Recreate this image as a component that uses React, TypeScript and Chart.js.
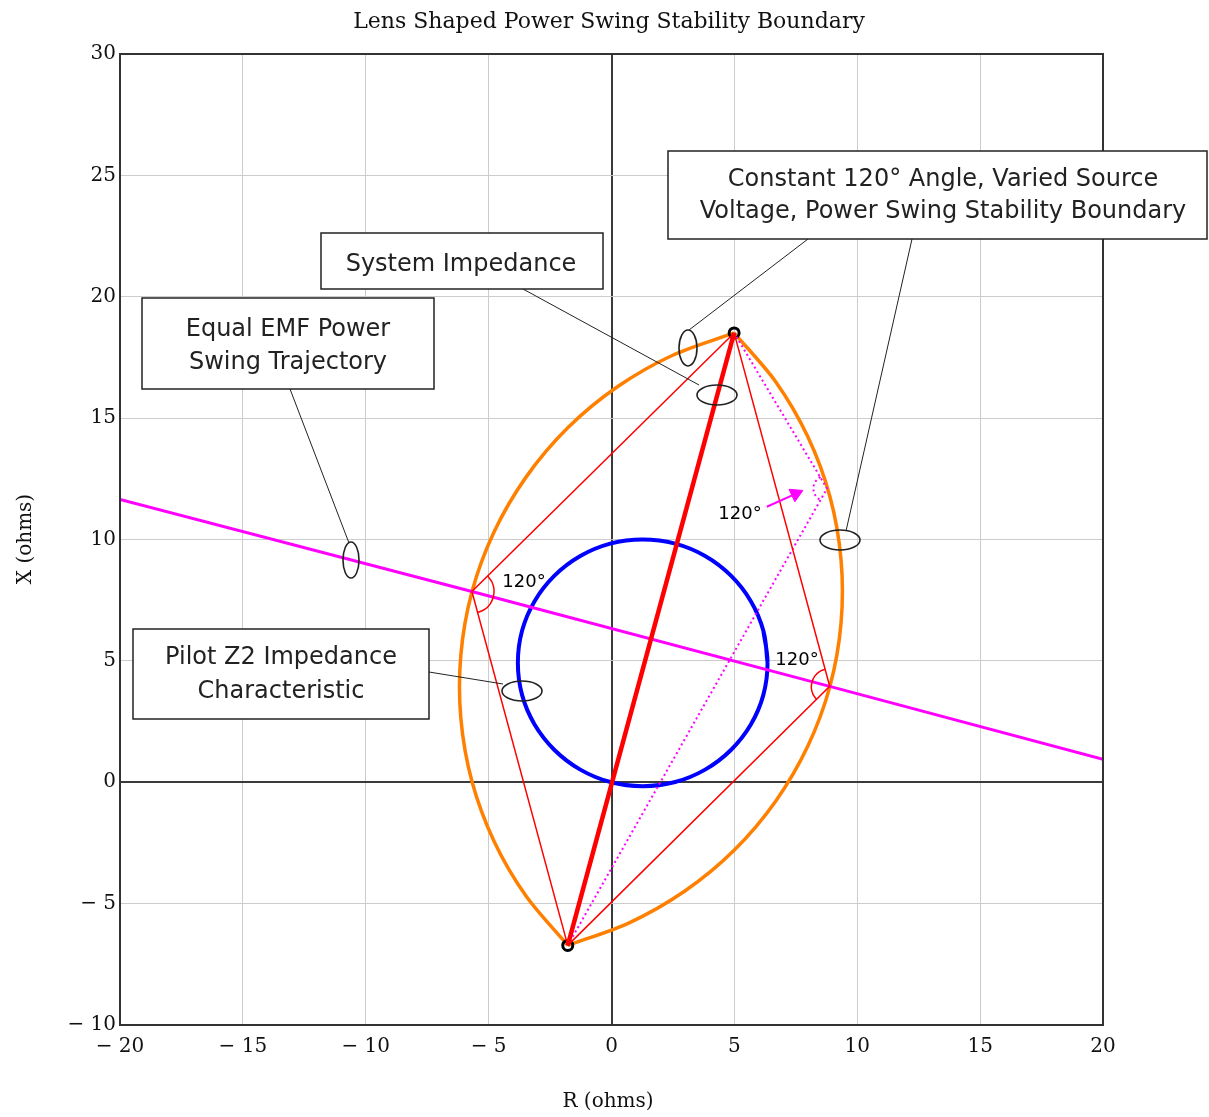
import React, { useEffect, useRef } from 'react';
import { Chart, registerables } from 'chart.js';

Chart.register(...registerables);

// ---- axis ticks ----
const xTickValues = [-20, -15, -10, -5, 0, 5, 10, 15, 20];
const yTickValues = [-10, -5, 0, 5, 10, 15, 20, 25, 30];

// ---- key points (R, X in ohms) ----
const endPointsR = [4.99, -1.78];
const endPointsX = [18.51, -6.72];

// System impedance (thick red)
const systemImpR = [-1.78, 4.99];
const systemImpX = [-6.72, 18.51];

// 120° triangles at the lens apexes (thin red)
const leftApexPathR = [-1.78, -5.68, 4.99];
const leftApexPathX = [-6.72, 7.86, 18.51];
const rightApexPathR = [-1.78, 8.88, 4.99];
const rightApexPathX = [-6.72, 3.95, 18.51];

// Varied source voltage point (magenta dotted)
const variedPathR = [-1.78, 8.77, 4.99];
const variedPathX = [-6.72, 12.1, 18.51];

// Equal EMF power swing trajectory (magenta)
const trajR = [-20, -5.68, 8.88, 20];
const trajX = [11.65, 7.86, 3.95, 0.95];

// Pilot Z2 mho circle (blue)
const mhoR = [6.35, 6.18, 5.67, 4.86, 3.81, 2.59, 1.27, -0.05, -1.27, -2.32, -3.13, -3.64, -3.81, -3.64, -3.13, -2.32, -1.27, -0.05, 1.27, 2.59, 3.81, 4.86, 5.67, 6.18, 6.35, 6.18];
const mhoX = [4.92, 6.24, 7.46, 8.51, 9.32, 9.83, 10.0, 9.83, 9.32, 8.51, 7.46, 6.24, 4.92, 3.6, 2.38, 1.33, 0.52, 0.01, -0.16, 0.01, 0.52, 1.33, 2.38, 3.6, 4.92, 6.24];

// Lens boundary (orange) - right arc T->B and left arc B->T
const lensRightR = [4.99, 6.68, 7.99, 8.89, 9.34, 9.34, 8.89, 7.99, 6.68, 4.99, 2.97, 0.7, -1.78];
const lensRightX = [18.51, 16.5, 14.23, 11.76, 9.17, 6.55, 3.96, 1.49, -0.78, -2.8, -4.49, -5.8, -6.72];
const lensLeftR = [-1.78, -3.47, -4.78, -5.68, -6.13, -6.13, -5.68, -4.78, -3.47, -1.78, 0.24, 2.51, 4.99];
const lensLeftX = [-6.72, -4.7, -2.43, 0.04, 2.63, 5.25, 7.84, 10.31, 12.58, 14.6, 16.29, 17.6, 18.51];

// Angle markers
const leftAngleR = [-5.04, -4.86, -4.78, -4.81, -4.94, -5.16, -5.45];
const leftAngleX = [8.5, 8.24, 7.94, 7.63, 7.34, 7.12, 6.99];
const rightAngleR = [8.69, 8.45, 8.27, 8.16, 8.13, 8.2, 8.35];
const rightAngleX = [4.66, 4.55, 4.37, 4.13, 3.88, 3.62, 3.41];
const variedAngleR = [8.5, 8.35, 8.25, 8.22, 8.25, 8.35, 8.5];
const variedAngleX = [12.58, 12.45, 12.29, 12.1, 11.91, 11.75, 11.62];

// Arrow pointing at the varied angle marker
const arrowR = [6.32, 7.49];
const arrowX = [11.35, 11.88];

const mk = (rs: number[], xs: number[]) => rs.map((r, i) => ({ x: r, y: xs[i] }));

const line = (label: string, rs: number[], xs: number[], color: string, width: number, extra: any = {}) => ({
  label,
  data: mk(rs, xs),
  showLine: true,
  borderColor: color,
  backgroundColor: color,
  borderWidth: width,
  pointRadius: 0,
  pointHoverRadius: 0,
  tension: 0,
  fill: false,
  ...extra,
});

const fmt = (v: number) => (v < 0 ? '\u2212 ' + Math.abs(v) : String(v));

const boxes = [
  { x: 668, y: 151, w: 539, h: 88, cx: 943, lines: ['Constant 120° Angle, Varied Source', 'Voltage, Power Swing Stability Boundary'], ly: [180, 212] },
  { x: 321, y: 233, w: 282, h: 56, cx: 461, lines: ['System Impedance'], ly: [265] },
  { x: 142, y: 298, w: 292, h: 91, cx: 288, lines: ['Equal EMF Power', 'Swing Trajectory'], ly: [330, 363] },
  { x: 133, y: 629, w: 296, h: 90, cx: 281, lines: ['Pilot Z2 Impedance', 'Characteristic'], ly: [658, 692] },
];
const leaders = [
  [808, 239, 689, 330],
  [912, 239, 846, 531],
  [523, 289, 699, 385],
  [290, 389, 349, 543],
  [429, 672, 503, 684],
];
const ellipses = [
  [688, 348, 9, 18],
  [840, 540, 20, 10],
  [717, 395, 20, 10],
  [351, 560, 8, 18],
  [522, 691, 20, 10],
];
const angleLabels = [
  [740, 514],
  [524, 582],
  [797, 660],
];

const annotPlugin = {
  id: 'annot',
  afterDatasetsDraw(chart: any) {
    const ctx = chart.ctx;
    const a = chart.chartArea;
    ctx.save();
    ctx.strokeStyle = '#333';
    ctx.lineWidth = 2;
    ctx.strokeRect(a.left, a.top, a.right - a.left, a.bottom - a.top);

    ctx.strokeStyle = '#222';
    ctx.lineWidth = 1;
    leaders.forEach(([x1, y1, x2, y2]) => {
      ctx.beginPath();
      ctx.moveTo(x1, y1);
      ctx.lineTo(x2, y2);
      ctx.stroke();
    });
    ctx.lineWidth = 1.6;
    ellipses.forEach(([cx, cy, rx, ry]) => {
      ctx.beginPath();
      ctx.ellipse(cx, cy, rx, ry, 0, 0, Math.PI * 2);
      ctx.stroke();
    });

    boxes.forEach((b) => {
      ctx.fillStyle = '#fff';
      ctx.fillRect(b.x, b.y, b.w, b.h);
      ctx.strokeStyle = '#222';
      ctx.lineWidth = 1.5;
      ctx.strokeRect(b.x, b.y, b.w, b.h);
      ctx.fillStyle = '#222';
      ctx.font = '24px "DejaVu Sans"';
      ctx.textAlign = 'center';
      ctx.textBaseline = 'middle';
      b.lines.forEach((t, i) => ctx.fillText(t, b.cx, b.ly[i]));
    });

    ctx.fillStyle = '#000';
    ctx.font = '18px "DejaVu Sans"';
    ctx.textAlign = 'center';
    ctx.textBaseline = 'middle';
    angleLabels.forEach(([x, y]) => ctx.fillText('120°', x, y));

    ctx.fillStyle = '#111';
    ctx.font = '22px "DejaVu Serif"';
    ctx.fillText('Lens Shaped Power Swing Stability Boundary', 609, 22);
    ctx.font = '20px "DejaVu Serif"';
    ctx.fillText('R (ohms)', 608, 1102);
    ctx.translate(26, 539);
    ctx.rotate(-Math.PI / 2);
    ctx.fillText('X (ohms)', 0, 0);
    ctx.restore();
  },
};

export default function App() {
  const ref = useRef<HTMLCanvasElement | null>(null);
  useEffect(() => {
    if (!ref.current) return;
    const gridColor = (c: any) => {
      const v = c.tick ? c.tick.value : null;
      if (v === 0) return '#3a3a3a';
      return '#cccccc';
    };
    const gridWidth = (c: any) => (c.tick && c.tick.value === 0 ? 2 : 1);
    const tickFont = { family: 'DejaVu Serif', size: 20 };

    const datasets: any[] = [
      line('arrow', arrowR, arrowX, '#ff00ff', 2, {
        pointRadius: [0, 8],
        pointStyle: 'triangle',
        rotation: 65,
        pointBackgroundColor: '#ff00ff',
        pointBorderColor: '#ff00ff',
        pointBorderWidth: 1,
      }),
      line('leftAngle', leftAngleR, leftAngleX, '#ff0000', 1.5, { tension: 0.4 }),
      line('rightAngle', rightAngleR, rightAngleX, '#ff0000', 1.5, { tension: 0.4 }),
      line('variedAngle', variedAngleR, variedAngleX, '#ff00ff', 2, { tension: 0.4, borderDash: [2, 3] }),
      line('System Impedance', systemImpR, systemImpX, '#ff0000', 4.5),
      line('leftApex', leftApexPathR, leftApexPathX, '#ff0000', 1.5),
      line('rightApex', rightApexPathR, rightApexPathX, '#ff0000', 1.5),
      line('varied', variedPathR, variedPathX, '#ff00ff', 2, { borderDash: [2, 3] }),
      {
        label: 'ends',
        data: mk(endPointsR, endPointsX),
        showLine: false,
        pointRadius: 5,
        pointStyle: 'circle',
        pointBorderColor: '#000',
        pointBackgroundColor: 'rgba(0,0,0,0)',
        pointBorderWidth: 3,
      },
      line('Equal EMF Power Swing Trajectory', trajR, trajX, '#ff00ff', 3),
      line('Pilot Z2', mhoR, mhoX, '#0000ff', 4, { tension: 0.4 }),
      line('lensRight', lensRightR, lensRightX, '#ff8000', 3.5, { tension: 0.3 }),
      line('lensLeft', lensLeftR, lensLeftX, '#ff8000', 3.5, { tension: 0.3 }),
    ];

    const chart = new Chart(ref.current, {
      type: 'scatter',
      data: { datasets },
      options: {
        animation: false,
        responsive: false,
        devicePixelRatio: 1,
        layout: { padding: { left: 0, top: 54, right: 106, bottom: 0 } },
        plugins: {
          legend: { display: false },
          tooltip: { enabled: false },
          title: { display: false },
        },
        events: [],
        scales: {
          x: {
            type: 'linear',
            min: -20,
            max: 20,
            afterBuildTicks: (s: any) => {
              s.ticks = xTickValues.map((v) => ({ value: v }));
            },
            afterFit: (s: any) => {
              s.height = 92;
            },
            border: { display: false },
            grid: { color: gridColor, lineWidth: gridWidth, drawTicks: false },
            ticks: {
              font: tickFont,
              color: '#111',
              padding: 10,
              maxRotation: 0,
              autoSkip: false,
              callback: (v: any) => fmt(Number(v)),
            },
          },
          y: {
            type: 'linear',
            min: -10,
            max: 30,
            afterBuildTicks: (s: any) => {
              s.ticks = yTickValues.map((v) => ({ value: v }));
            },
            afterFit: (s: any) => {
              s.width = 120;
            },
            border: { display: false },
            grid: { color: gridColor, lineWidth: gridWidth, drawTicks: false },
            ticks: {
              font: tickFont,
              color: '#111',
              padding: 4,
              autoSkip: false,
              callback: (v: any) => fmt(Number(v)),
            },
          },
        },
      } as any,
      plugins: [annotPlugin],
    });
    return () => chart.destroy();
  }, []);

  return (
    <div style={{ position: 'fixed', left: 0, top: 0, width: 1209, height: 1117, background: '#fff' }}>
      <canvas ref={ref} width={1209} height={1117} style={{ display: 'block', width: 1209, height: 1117 }} />
    </div>
  );
}
